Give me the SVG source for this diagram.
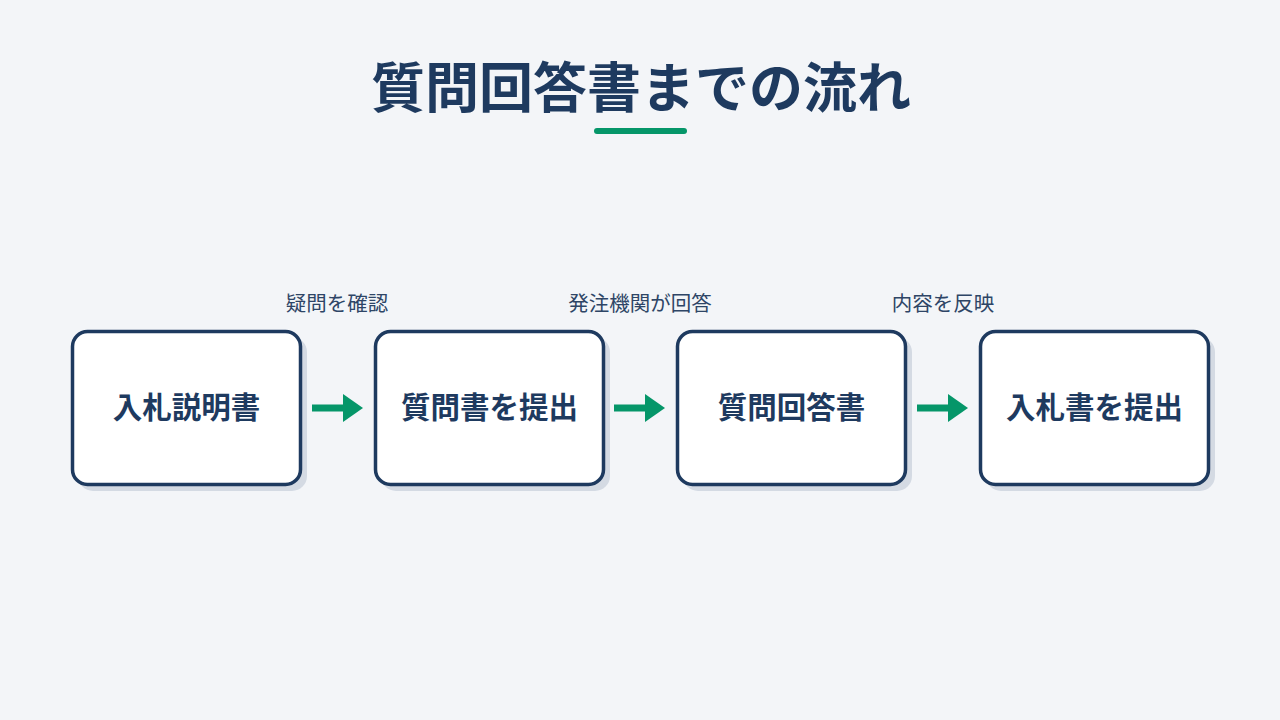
<svg xmlns="http://www.w3.org/2000/svg" width="1280" height="720" viewBox="0 0 1280 720">
<defs>
<style>
.bg{fill:#f3f5f8}
.title{font-family:"Noto Sans CJK JP","Noto Sans",sans-serif;font-weight:700;font-size:54px;fill:#1e3a5f}
.shadow{fill:#d4dae3}
.box{fill:#ffffff;stroke:#1e3a5f;stroke-width:3.5}
.ntext{font-family:"Noto Sans CJK JP","Noto Sans",sans-serif;font-weight:700;font-size:29.5px;fill:#1e3a5f}
.lbl{font-family:"Noto Sans CJK JP","Noto Sans",sans-serif;font-size:20.5px;fill:#2e4566}
.arrow{fill:#059669}
</style>
</defs>
<rect class="bg" x="0" y="0" width="1280" height="720"/>
<g id="title">
<text class="title" x="641" y="108" text-anchor="middle">質問回答書までの流れ</text>
<rect x="594" y="128" width="93" height="6" rx="3" fill="#059669"/>
</g>
<g id="connectors">
<g id="c1">
<rect class="arrow" x="312" y="404.5" width="33" height="7"/>
<polygon class="arrow" points="343,394 363,408 343,422"/>
<text class="lbl" x="337" y="311" text-anchor="middle">疑問を確認</text>
</g>
<g id="c2">
<rect class="arrow" x="614" y="404.5" width="33" height="7"/>
<polygon class="arrow" points="645,394 665,408 645,422"/>
<text class="lbl" x="640" y="311" text-anchor="middle">発注機関が回答</text>
</g>
<g id="c3">
<rect class="arrow" x="917" y="404.5" width="33" height="7"/>
<polygon class="arrow" points="948,394 968,408 948,422"/>
<text class="lbl" x="943" y="311" text-anchor="middle">内容を反映</text>
</g>
</g>
<g id="n1">
<rect class="shadow" x="78" y="337" width="229" height="154" rx="15"/>
<rect class="box" x="72.5" y="331.5" width="228" height="153" rx="15"/>
<text class="ntext" x="186.5" y="418" text-anchor="middle">入札説明書</text>
</g>
<g id="n2">
<rect class="shadow" x="381" y="337" width="229" height="154" rx="15"/>
<rect class="box" x="375.5" y="331.5" width="228" height="153" rx="15"/>
<text class="ntext" x="489.5" y="418" text-anchor="middle">質問書を提出</text>
</g>
<g id="n3">
<rect class="shadow" x="683" y="337" width="229" height="154" rx="15"/>
<rect class="box" x="677.5" y="331.5" width="228" height="153" rx="15"/>
<text class="ntext" x="791.5" y="418" text-anchor="middle">質問回答書</text>
</g>
<g id="n4">
<rect class="shadow" x="986" y="337" width="229" height="154" rx="15"/>
<rect class="box" x="980.5" y="331.5" width="228" height="153" rx="15"/>
<text class="ntext" x="1094.5" y="418" text-anchor="middle">入札書を提出</text>
</g>
</svg>
